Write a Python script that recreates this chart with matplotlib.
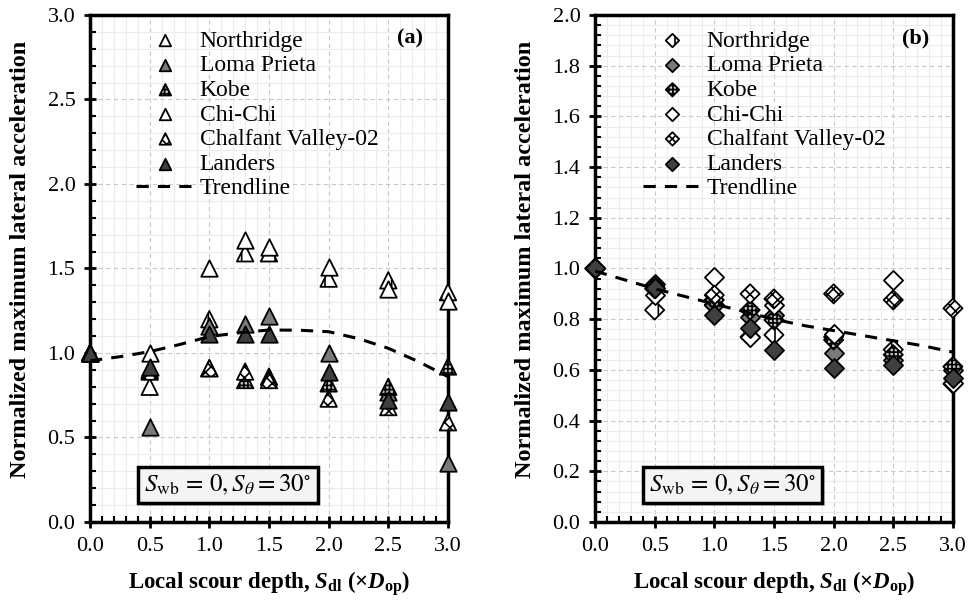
import numpy as np
import matplotlib
matplotlib.use('Agg')
import matplotlib.pyplot as plt
from matplotlib.ticker import MultipleLocator
import matplotlib.patheffects as pe

plt.rcParams['font.family'] = ['Liberation Serif', 'DejaVu Serif']
plt.rcParams['mathtext.fontset'] = 'custom'
plt.rcParams['mathtext.rm'] = 'Liberation Serif:bold'
plt.rcParams['mathtext.it'] = 'Liberation Serif:italic:bold'
plt.rcParams['mathtext.bf'] = 'Liberation Serif:bold'
plt.rcParams['hatch.linewidth'] = 1.2

# scour depths (x Dop)
depth = [0.0, 0.5, 1.0, 1.3, 1.5, 2.0, 2.5, 3.0]
events = ["Northridge", "Loma Prieta", "Kobe", "Chi-Chi", "Chalfant Valley-02", "Landers"]

# (a) normalized lateral acceleration, S_wb = 0, S_theta = 30
acc_a = {
    "Northridge":         [1.0, 0.80, 1.20, 1.59, 1.59, 1.44, 1.43, 1.36],
    "Loma Prieta":        [1.0, 0.56, 1.16, 1.17, 1.22, 1.00, 0.77, 0.35],
    "Kobe":               [1.0, 0.90, 0.91, 0.84, 0.86, 0.82, 0.80, 0.92],
    "Chi-Chi":            [1.0, 1.00, 1.50, 1.67, 1.63, 1.51, 1.38, 1.31],
    "Chalfant Valley-02": [1.0, 0.89, 0.91, 0.89, 0.84, 0.73, 0.68, 0.59],
    "Landers":            [1.0, 0.92, 1.11, 1.11, 1.11, 0.89, 0.72, 0.71],
}
# (b)
acc_b = {
    "Northridge":         [1.0, 0.836, 0.856, 0.73, 0.738, 0.73, 0.68, 0.545],
    "Loma Prieta":        [1.0, 0.94, 0.856, 0.81, 0.817, 0.665, 0.64, 0.60],
    "Kobe":               [1.0, 0.93, 0.876, 0.836, 0.797, 0.718, 0.66, 0.613],
    "Chi-Chi":            [1.0, 0.895, 0.965, 0.73, 0.856, 0.74, 0.955, 0.55],
    "Chalfant Valley-02": [1.0, 0.92, 0.895, 0.90, 0.88, 0.90, 0.876, 0.843],
    "Landers":            [1.0, 0.925, 0.817, 0.764, 0.68, 0.606, 0.62, 0.567],
}

# trendlines
trend_x = [0.0, 0.25, 0.5, 0.75, 1.0, 1.25, 1.5, 1.75, 2.0, 2.25, 2.5, 2.75, 3.0]
trend_a = [0.954, 0.978, 1.008, 1.05, 1.097, 1.12, 1.136, 1.135, 1.126, 1.085, 1.028, 0.95, 0.86]
trend_b = [0.99, 0.955, 0.92, 0.89, 0.86, 0.83, 0.80, 0.775, 0.755, 0.735, 0.715, 0.695, 0.67]

styles = {
    "Northridge":         dict(facecolor="white", hatch="|"),
    "Loma Prieta":        dict(facecolor="#7a7a7a", hatch=None),
    "Kobe":               dict(facecolor="#c4c4c4", hatch="++++"),
    "Chi-Chi":            dict(facecolor="white", hatch=None),
    "Chalfant Valley-02": dict(facecolor="white", hatch="xxx"),
    "Landers":            dict(facecolor="#404040", hatch=None),
}


def draw_panel(ax, data, trend, marker, size, ymax, ymajor, yminor, tag, leg_x):
    for ev in events:
        st = styles[ev]
        ax.scatter(depth, data[ev], marker=marker, s=size, facecolor=st["facecolor"],
                   edgecolor="black", linewidths=1.3, hatch=st["hatch"], label=ev,
                   zorder=3, clip_on=False)
    ax.plot(trend_x, trend, "--", color="black", lw=2.2, dashes=(4, 3),
            label="Trendline", zorder=4)

    ax.set_xlim(0, 3.0)
    ax.set_ylim(0, ymax)
    ax.xaxis.set_major_locator(MultipleLocator(0.5))
    ax.xaxis.set_minor_locator(MultipleLocator(0.1))
    ax.yaxis.set_major_locator(MultipleLocator(ymajor))
    ax.yaxis.set_minor_locator(MultipleLocator(yminor))
    ax.xaxis.set_major_formatter(lambda v, p: f"{v:.1f}")
    ax.yaxis.set_major_formatter(lambda v, p: f"{v:.1f}")
    ax.grid(True, which="major", linestyle=(0, (4, 3)), color="#c8c8c8", lw=0.8)
    ax.grid(True, which="minor", linestyle="-", color="#ececec", lw=0.8)
    ax.set_axisbelow(True)
    ax.tick_params(which="major", direction="inout", length=9, width=2, labelsize=16, pad=6)
    ax.tick_params(which="minor", direction="in", length=4, width=1.5)
    for sp in ax.spines.values():
        sp.set_linewidth(2.5)

    ax.set_ylabel("Normalized maximum lateral acceleration", fontsize=17.5,
                  fontweight="bold")
    ax.yaxis.set_label_coords(-0.165, 0.517)
    ax.set_xlabel(r"Local scour depth, $S_{\mathrm{dl}}$ (×$D_{\mathrm{op}}$)",
                  fontsize=16.5, fontweight="bold", labelpad=10)

    ax.legend(loc="upper left", bbox_to_anchor=(leg_x, 0.97), frameon=False,
              fontsize=17, markerscale=0.7, handlelength=2.5,
              handletextpad=0.2, labelspacing=0.13, borderpad=0, borderaxespad=0)

    ax.text(0.895, 0.953, tag, transform=ax.transAxes, ha="center", va="center",
            fontsize=16, fontweight="bold")

    t = ax.text(0.385, 0.073, r"$S_{\rm wb}\,=\,0, S_{\theta}{=}30^{\circ}$",
                transform=ax.transAxes, ha="center", va="center", fontsize=18,
                math_fontfamily="stix", zorder=6,
                bbox=dict(boxstyle="square,pad=0.25", facecolor="#f4f4f4",
                          edgecolor="black", linewidth=2.5))
    t.get_bbox_patch().set_path_effects([
        pe.SimplePatchShadow(offset=(2, -2), shadow_rgbFace="#999999", alpha=0.5),
        pe.Normal()])


fig = plt.figure(figsize=(9.69, 6.02), dpi=100)
ax_a = fig.add_axes([0.0929, 0.1329, 0.3694, 0.8422])
ax_b = fig.add_axes([0.614, 0.1329, 0.3694, 0.8422])

draw_panel(ax_a, acc_a, trend_a, "^", 140, 3.0, 0.5, 0.1, "(a)", 0.128)
draw_panel(ax_b, acc_b, trend_b, "D", 95, 2.0, 0.2, 0.04, "(b)", 0.134)

fig.savefig("out.png", dpi=100)
plt.close(fig)
